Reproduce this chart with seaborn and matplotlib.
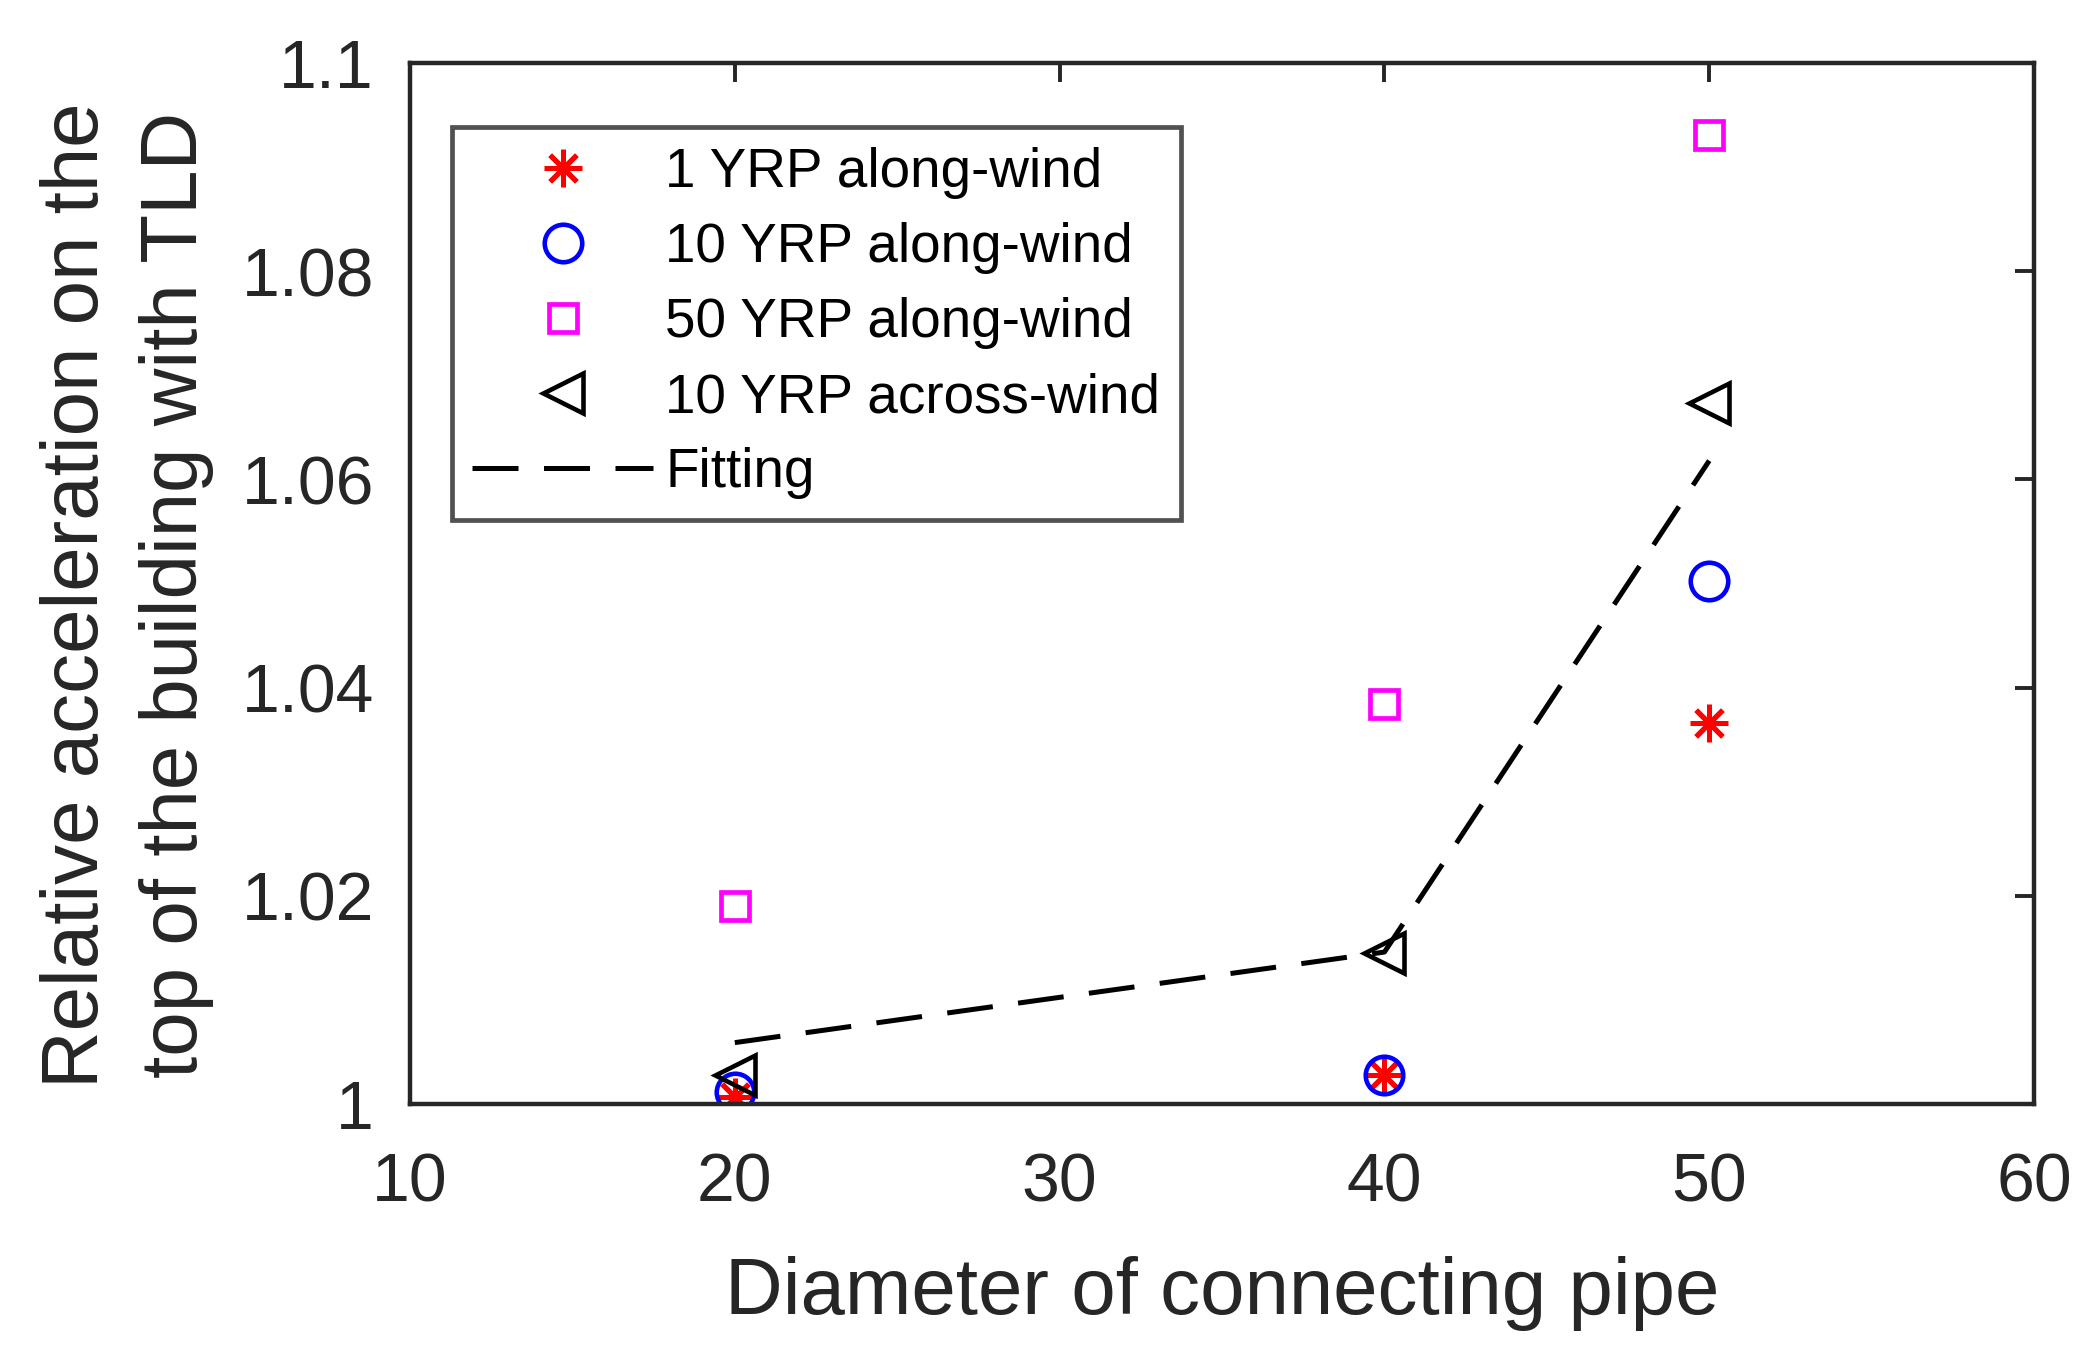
import matplotlib
matplotlib.use("Agg")
import matplotlib.pyplot as plt
import numpy as np
import pandas as pd
import seaborn as sns

# values
diameter = [20, 40, 50]
yrp1_along = [1.0007, 1.0028, 1.0366]
yrp10_along = [1.0012, 1.0028, 1.0502]
yrp50_along = [1.0190, 1.0384, 1.0931]
yrp10_across = [1.0028, 1.0145, 1.0673]
fitting = [1.0059, 1.0146, 1.0618]

labels = ["1 YRP along-wind", "10 YRP along-wind", "50 YRP along-wind",
          "10 YRP across-wind", "Fitting"]
xticks = [10, 20, 30, 40, 50, 60]
yticks = [1.0, 1.02, 1.04, 1.06, 1.08, 1.1]
ytick_labels = ["1", "1.02", "1.04", "1.06", "1.08", "1.1"]

sns.set_theme(style="white")
plt.rcParams["font.family"] = ["Liberation Sans", "DejaVu Sans"]
INK = "#262626"

fig = plt.figure(figsize=(20.95, 13.57), dpi=100)
ax = fig.add_axes([0.1957, 0.1864, 0.9709 - 0.1957, 0.9536 - 0.1864])

spec = [
    (yrp1_along, "#ff0000", (8, 2, 0), 27, 3.6),
    (yrp10_along, "#0000ff", "o", 27, 3.3),
    (yrp50_along, "#ff00ff", "s", 20, 3.4),
    (yrp10_across, "#000000", "<", 29, 3.3),
]
for vals, col, mk, ms, mew in spec:
    sns.lineplot(x=diameter, y=vals, ax=ax, linestyle="none", marker=mk,
                 markersize=ms, markerfacecolor="none", markeredgecolor=col,
                 markeredgewidth=mew, color=col, sort=False, errorbar=None)

sns.lineplot(x=diameter, y=fitting, ax=ax, color="black", lw=3.6,
             dashes=(9.2, 5.1), sort=False, errorbar=None)

ax.set_xlim(10, 60)
ax.set_ylim(1.0, 1.1)
ax.set_xticks(xticks)
ax.set_yticks(yticks)
ax.set_yticklabels(ytick_labels)
ax.tick_params(direction="in", length=14, width=2.8, labelsize=49,
               top=True, right=True, colors=INK)
ax.tick_params(axis="x", pad=34)
ax.tick_params(axis="y", pad=26)
for s in ax.spines.values():
    s.set_linewidth(3.2)
    s.set_color(INK)
    s.set_visible(True)

ax.set_xlabel("Diameter of connecting pipe", fontsize=57.5, color=INK, labelpad=29)
ax.set_ylabel("Relative acceleration on the\ntop of the building with TLD",
              fontsize=57.5, color=INK, labelpad=20, linespacing=1.4)
ax.yaxis.label.set_y(0.489)

leg = ax.legend(ax.get_lines(), labels, loc="upper left",
                bbox_to_anchor=(0.0259, 0.9385), fontsize=39.5, frameon=True,
                fancybox=False, edgecolor=INK, handlelength=3.3,
                handletextpad=0.22, borderpad=0.37, labelspacing=0.42,
                borderaxespad=0)
leg.get_frame().set_linewidth(3.4)
for t in leg.get_texts():
    t.set_color("black")

fig.savefig("out.png", dpi=100)
